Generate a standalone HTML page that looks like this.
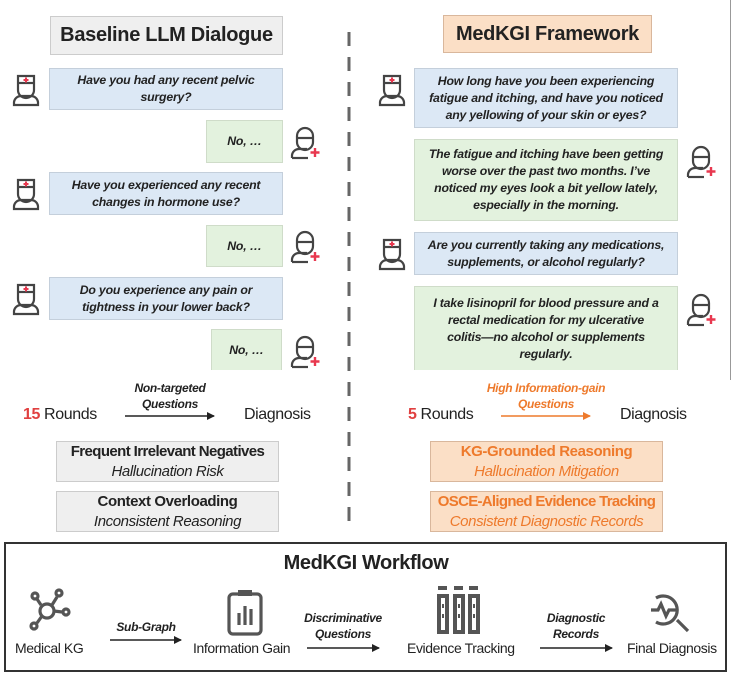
<!DOCTYPE html>
<html><head><meta charset="utf-8"><style>
body{margin:0;width:732px;height:678px;background:#fff;position:relative;overflow:hidden;font-family:"Liberation Sans",sans-serif;color:#222}
.b{position:absolute;box-sizing:border-box;display:flex;align-items:center;justify-content:center;text-align:center;font-weight:bold;font-style:italic;font-size:12.3px;line-height:17px;letter-spacing:-0.2px;color:#222;white-space:nowrap}
.q{background:#dce8f5;border:1px solid #c4cfdb}
.a{background:#e3f2de;border:1px solid #cfdcc9}
.t{position:absolute;box-sizing:border-box;display:flex;align-items:center;justify-content:center;font-weight:bold;font-size:20px;letter-spacing:-0.3px}
.g{position:absolute;box-sizing:border-box;text-align:center;font-size:15px;line-height:20px;letter-spacing:-0.4px;white-space:nowrap}
.l{position:absolute;font-size:14px;letter-spacing:-0.4px;white-space:nowrap}
.s{position:absolute;font-size:12px;font-weight:bold;font-style:italic;text-align:center;line-height:16px;letter-spacing:-0.3px;white-space:nowrap}
</style></head><body>
<div class="t" style="left:50px;top:16px;width:233px;height:39px;background:#efefef;border:1px solid #ccc">Baseline LLM Dialogue</div>
<div class="t" style="left:443px;top:15px;width:209px;height:38px;background:#fbdfc6;border:1px solid #d9b79c">MedKGI Framework</div>

<div class="b q" style="left:49px;top:68px;width:234px;height:42px">Have you had any recent pelvic<br>surgery?</div>
<div class="b a" style="left:206px;top:120px;width:77px;height:43px">No, …</div>
<div class="b q" style="left:49px;top:172px;width:234px;height:43px">Have you experienced any recent<br>changes in hormone use?</div>
<div class="b a" style="left:206px;top:225px;width:77px;height:42px">No, …</div>
<div class="b q" style="left:49px;top:277px;width:234px;height:43px">Do you experience any pain or<br>tightness in your lower back?</div>
<div class="b a" style="left:211px;top:329px;width:71px;height:41px;border-bottom:none">No, …</div>

<div class="b q" style="left:414px;top:68px;width:264px;height:60px">How long have you been experiencing<br>fatigue and itching, and have you noticed<br>any yellowing of your skin or eyes?</div>
<div class="b a" style="left:414px;top:139px;width:264px;height:82px">The fatigue and itching have been getting<br>worse over the past two months. I’ve<br>noticed my eyes look a bit yellow lately,<br>especially in the morning.</div>
<div class="b q" style="left:414px;top:232px;width:264px;height:43px">Are you currently taking any medications,<br>supplements, or alcohol regularly?</div>
<div class="b a" style="left:414px;top:286px;width:264px;height:84px;border-bottom:none">I take lisinopril for blood pressure and a<br>rectal medication for my ulcerative<br>colitis—no alcohol or supplements<br>regularly.</div>

<svg width="732" height="678" style="position:absolute;left:0;top:0" xmlns="http://www.w3.org/2000/svg">
<defs>
<g id="doc" fill="none" stroke="#444" stroke-width="2.2">
<path d="M5 2 h16 v14 a8 8 0 0 1 -16 0 z"/><path d="M5 9 h16"/>
<path d="M1 31 v-3 a7 7 0 0 1 7 -6 h10 a7 7 0 0 1 7 6 v3 z"/>
<path d="M13 3.5 v5 M10.5 6 h5" stroke="#e8384f" stroke-width="2"/>
</g>
<g id="pat" fill="none" stroke="#444" stroke-width="2.2">
<path d="M6 10 a8 8 0 0 1 16 0 v6 a8 8 0 0 1 -16 0 z"/><path d="M6 12 h16"/>
<path d="M1 32 v-3 a7 7 0 0 1 7 -6 h8"/><path d="M1 32 h16"/>
<path d="M24 22 v9 M19.5 26.5 h9" stroke="#e8384f" stroke-width="2.4"/>
</g>
<marker id="ar" markerWidth="8" markerHeight="8" refX="7" refY="4" orient="auto" markerUnits="userSpaceOnUse"><path d="M0 0 L8 4 L0 8 z" fill="#222"/></marker>
<marker id="ao" markerWidth="8" markerHeight="8" refX="7" refY="4" orient="auto" markerUnits="userSpaceOnUse"><path d="M0 0 L8 4 L0 8 z" fill="#ee7a2c"/></marker>
</defs>
<use href="#doc" x="13" y="74"/><use href="#doc" x="13" y="178"/><use href="#doc" x="13" y="283"/>
<use href="#pat" x="291" y="126"/><use href="#pat" x="291" y="230"/><use href="#pat" x="291" y="335"/>
<use href="#doc" x="379" y="74"/><use href="#doc" x="379" y="238"/>
<use href="#pat" x="687" y="145"/><use href="#pat" x="687" y="293"/>
<line x1="349" y1="32" x2="349" y2="528" stroke="#666" stroke-width="3" stroke-dasharray="14,11"/>
<line x1="730.5" y1="0" x2="730.5" y2="380" stroke="#999" stroke-width="1"/>
<line x1="125" y1="416" x2="214" y2="416" stroke="#222" stroke-width="1.5" marker-end="url(#ar)"/>
<line x1="501" y1="416" x2="590" y2="416" stroke="#ee7a2c" stroke-width="1.5" marker-end="url(#ao)"/>
<rect x="5" y="543" width="721" height="128" fill="none" stroke="#333" stroke-width="2"/>
<line x1="110" y1="640" x2="181" y2="640" stroke="#222" stroke-width="1.5" marker-end="url(#ar)"/>
<line x1="307" y1="648" x2="379" y2="648" stroke="#222" stroke-width="1.5" marker-end="url(#ar)"/>
<line x1="540" y1="648" x2="612" y2="648" stroke="#222" stroke-width="1.5" marker-end="url(#ar)"/>
<!-- KG icon -->
<g fill="none" stroke="#555" stroke-width="3.2">
<circle cx="47" cy="611" r="7"/><line x1="41" y1="605" x2="37" y2="599"/><circle cx="35" cy="596" r="3"/>
<line x1="52" y1="605" x2="57" y2="597"/><circle cx="59" cy="593" r="3"/>
<line x1="54" y1="611" x2="62" y2="612"/><circle cx="66" cy="612" r="3"/>
<line x1="42" y1="616" x2="37" y2="623"/><circle cx="34" cy="626" r="3"/>
</g>
<!-- clipboard -->
<g fill="none" stroke="#555" stroke-width="3.2">
<rect x="229" y="594" width="32" height="40" rx="4"/><line x1="238" y1="593" x2="252" y2="593" stroke-width="6"/>
<line x1="239" y1="613" x2="239" y2="625"/><line x1="245" y1="606" x2="245" y2="625"/><line x1="251" y1="609" x2="251" y2="625"/>
</g>
<!-- evidence -->
<g fill="#555">
<rect x="438" y="586" width="9" height="4"/><rect x="454" y="586" width="9" height="4"/><rect x="469" y="586" width="9" height="4"/>
<rect x="437" y="594" width="12" height="40"/><rect x="453" y="594" width="12" height="40"/><rect x="468" y="594" width="12" height="40"/>
<g fill="#fff"><rect x="441" y="598" width="4" height="32"/><rect x="457" y="598" width="4" height="32"/><rect x="472" y="598" width="4" height="32"/></g>
<rect x="442" y="604" width="2" height="4"/><rect x="442" y="614" width="2" height="4"/><rect x="458" y="604" width="2" height="4"/><rect x="458" y="614" width="2" height="4"/><rect x="473" y="604" width="2" height="4"/><rect x="473" y="614" width="2" height="4"/>
</g>
<!-- diagnosis -->
<g fill="none" stroke="#555" stroke-width="3.2">
<path d="M656 598 a14 14 0 1 1 0 24"/><path d="M651 610 h7 l3 -6 l5 12 l3 -6 h7"/><line x1="677" y1="620" x2="688" y2="631"/>
</g>
</svg>

<div class="l" style="left:23px;top:406px;font-size:16px"><span style="color:#e04040;font-weight:bold">15</span> Rounds</div>
<div class="s" style="left:120px;top:380px;width:100px">Non-targeted<br>Questions</div>
<div class="l" style="left:244px;top:406px;font-size:16px">Diagnosis</div>
<div class="l" style="left:408px;top:406px;font-size:16px"><span style="color:#e04040;font-weight:bold">5</span> Rounds</div>
<div class="s" style="left:476px;top:380px;width:140px;color:#ee7a2c">High Information-gain<br>Questions</div>
<div class="l" style="left:620px;top:406px;font-size:16px">Diagnosis</div>

<div class="g" style="left:56px;top:441px;width:223px;height:41px;background:#efefef;border:1px solid #ccc"><span style="font-weight:bold;letter-spacing:-0.6px">Frequent Irrelevant Negatives</span><br><i>Hallucination Risk</i></div>
<div class="g" style="left:56px;top:491px;width:223px;height:41px;background:#efefef;border:1px solid #ccc"><b>Context Overloading</b><br><i>Inconsistent Reasoning</i></div>
<div class="g" style="left:430px;top:441px;width:233px;height:41px;background:#fbdfc6;border:1px solid #d9b79c;color:#ee7a2c"><b>KG-Grounded Reasoning</b><br><i>Hallucination Mitigation</i></div>
<div class="g" style="left:430px;top:491px;width:233px;height:41px;background:#fbdfc6;border:1px solid #d9b79c;color:#ee7a2c"><b style="letter-spacing:-0.7px">OSCE-Aligned Evidence Tracking</b><br><i>Consistent Diagnostic Records</i></div>

<div class="l" style="left:0;width:732px;text-align:center;top:552px;font-size:20px;font-weight:bold">MedKGI Workflow</div>
<div class="l" style="left:15px;top:640px;font-size:14px">Medical KG</div>
<div class="s" style="left:110px;top:619px;width:72px">Sub-Graph</div>
<div class="l" style="left:193px;top:640px;font-size:14px">Information Gain</div>
<div class="s" style="left:297px;top:610px;width:92px">Discriminative<br>Questions</div>
<div class="l" style="left:407px;top:640px;font-size:14px">Evidence Tracking</div>
<div class="s" style="left:530px;top:610px;width:92px">Diagnostic<br>Records</div>
<div class="l" style="left:627px;top:640px;font-size:14px">Final Diagnosis</div>
</body></html>
